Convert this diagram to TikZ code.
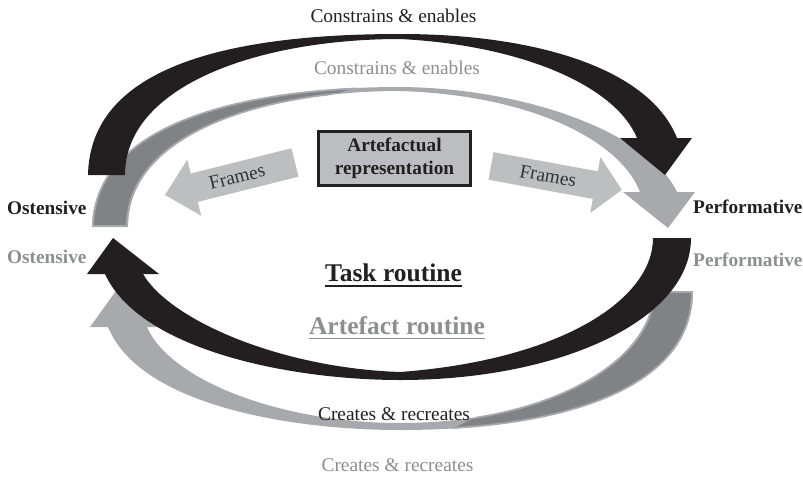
\documentclass[tikz,border=0pt]{standalone}
\usepackage{fontspec}
\setmainfont{Liberation Serif}
\usetikzlibrary{calc}
\definecolor{ink}{HTML}{231F20}
\definecolor{arcgray}{HTML}{A7A9AC}
\definecolor{arcdark}{HTML}{808285}
\definecolor{framegray}{HTML}{BCBEC0}
\definecolor{labelgray}{HTML}{8D8E91}
\definecolor{boxgray}{HTML}{BCBDC0}
\definecolor{frametext}{HTML}{333333}
\tikzset{
  lbl/.style={inner sep=0pt, font=\fontsize{19.4}{23.5}\selectfont},
  lblb/.style={inner sep=0pt, font=\fontsize{19.3}{23.5}\selectfont\bfseries},
  heading/.style={inner sep=0pt, font=\fontsize{25.5}{30}\selectfont\bfseries},
  uline/.style={line width=1.4pt},
  twist/.style={fill=arcdark, draw=arcgray, line width=1.8pt}
}
\begin{document}
\begin{tikzpicture}[x=1pt,y=-1pt]
\useasboundingbox (0,0) rectangle (803,477);

% "Frames" arrows leaving the artefactual representation
\fill[framegray] (291.5,148.3) -- (190.8,173.5) -- (187.3,159.6) -- (165,195)
  -- (201.3,215.8) -- (197.8,201.9) -- (298.5,176.7) -- cycle;
\fill[framegray] (493.5,152.2) -- (597.8,171.3) -- (600.4,157.1) -- (621.8,189.9)
  -- (590.2,213.1) -- (592.8,198.9) -- (488.5,179.8) -- cycle;

% upper grey arc (artefact routine): ostensive -> performative
\fill[arcgray] (92,227) .. controls (94,125) and (240,87) .. (400,87)
  .. controls (530,88) and (650,135) .. (677,192) -- (695,192) -- (668,228)
  -- (623,192) -- (640,192) .. controls (620,140) and (530,95) .. (400,91)
  .. controls (260,91) and (128,135) .. (128,227) -- cycle;
\begin{scope}
  \clip (0,0) -- (370,0) -- (370,84) -- (298,104) -- (298,477) -- (0,477) -- cycle;
  \path[twist] (93,226) .. controls (95,125) and (240,87.5) .. (400,87.5) -- (400,90.5)
    .. controls (260,90.5) and (127,135) .. (127,226) -- cycle;
\end{scope}

% upper black arc (task routine): ostensive -> performative
\fill[ink] (88,175) .. controls (90,70) and (220,34) .. (400,34)
  .. controls (540,34) and (650,70) .. (677,138) -- (692,138) -- (665,175)
  -- (620,138) -- (637,138) .. controls (615,85) and (520,45) .. (400,39)
  .. controls (260,39) and (125,85) .. (125,175) -- cycle;

% lower grey arc (artefact routine): performative -> ostensive
\fill[arcgray] (693,291) .. controls (693,390) and (560,430) .. (400,430)
  .. controls (290,430) and (140,405) .. (108,327) -- (90,327) -- (116,291)
  -- (162,327) -- (147,327) .. controls (170,380) and (280,423) .. (400,423)
  .. controls (550,423) and (653,360) .. (653,291) -- cycle;
\begin{scope}
  \clip (803,0) -- (500,0) -- (500,405) -- (430,440) -- (430,477) -- (803,477) -- cycle;
  \path[twist] (692,292) .. controls (692,390) and (560,429.5) .. (400,429.5) -- (400,423.5)
    .. controls (550,423.5) and (654,360) .. (654,292) -- cycle;
\end{scope}

% lower black arc (task routine): performative -> ostensive
\fill[ink] (691,238) .. controls (691,320) and (560,380) .. (400,380)
  .. controls (290,380) and (140,350) .. (105,274) -- (87,274) -- (113,238)
  -- (159,274) -- (143,274) .. controls (170,320) and (280,368) .. (400,372)
  .. controls (560,360) and (653,300) .. (653,238) -- cycle;

% artefactual representation
\node[draw=ink, line width=3pt, fill=boxgray, minimum width=152pt, minimum height=53.5pt,
  inner sep=0pt, align=center, font=\fontsize{19.3}{23.5}\selectfont\bfseries, text=ink]
  (rep) at (394.5,158.3) {Artefactual\\representation};

\node[lbl, text=frametext, rotate=14] (frameL) at (237,177) {Frames};
\node[lbl, text=frametext, rotate=-10.4] (frameR) at (548,176) {Frames};

% labels
\node[lbl, text=ink, anchor=base] (ceTask) at (393.5,22.5) {Constrains \& enables};
\node[lbl, text=labelgray, anchor=base] (ceArt) at (397,74) {Constrains \& enables};
\node[lbl, text=ink, anchor=base] (crTask) at (394,420.7) {Creates \& recreates};
\node[lbl, text=labelgray, anchor=base] (crArt) at (397.5,471.7) {Creates \& recreates};

\node[lblb, text=ink, anchor=base west] (ostTask) at (7,214) {Ostensive};
\node[lblb, text=labelgray, anchor=base west] (ostArt) at (7,263.5) {Ostensive};
\node[lblb, text=ink, anchor=base west] (perfTask) at (693,213.5) {Performative};
\node[lblb, text=labelgray, anchor=base west] (perfArt) at (693,266) {Performative};

\node[heading, text=ink, anchor=base] (task) at (393.5,281) {Task routine};
\draw[uline, ink] ($(task.base west)+(0,5)$) -- ($(task.base east)+(0,5)$);
\node[heading, text=labelgray, anchor=base] (art) at (397,334) {Artefact routine};
\draw[uline, labelgray] ($(art.base west)+(0,4.5)$) -- ($(art.base east)+(0,4.5)$);
\end{tikzpicture}
\end{document}
